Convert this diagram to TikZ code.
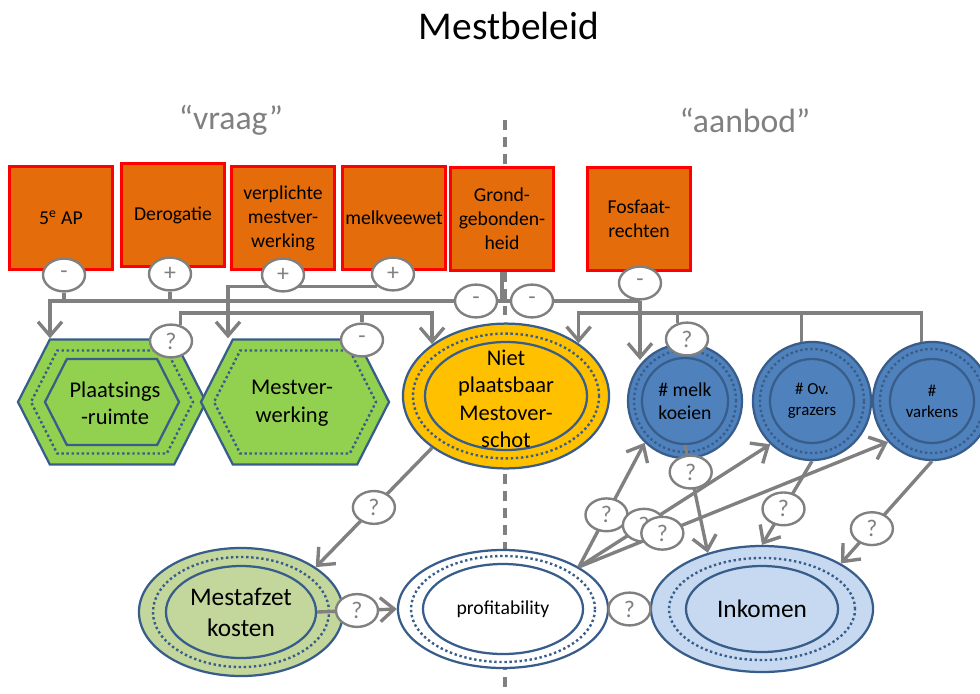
\documentclass[tikz,border=0pt]{standalone}
\usepackage{fontspec}
\setmainfont{Carlito}
\usepackage{xcolor}
\usepackage{tikz}
\usetikzlibrary{calc, shapes.geometric, shapes.symbols}
\usetikzlibrary{arrows.meta, positioning}

\definecolor{boxorange}{HTML}{E46C0A}
\definecolor{shapeblue}{HTML}{385D8A}
\definecolor{hexgreen}{HTML}{92D050}
\definecolor{nietyellow}{HTML}{FFC000}
\definecolor{animalblue}{HTML}{4F81BD}
\definecolor{kostgreen}{HTML}{C3D69B}
\definecolor{inkblue}{HTML}{C6D9F1}
\definecolor{linegray}{HTML}{808080}

\pgfdeclarelayer{front}
\pgfsetlayers{main,front}

\begin{document}
\begin{tikzpicture}[
            x=0.025cm, y=-0.025cm,
            title/.style={font=\fontsize{28}{30}\selectfont},
            side/.style={font=\fontsize{24}{26}\selectfont, text=linegray},
            box/.style={rectangle, draw=red, line width=2pt, fill=boxorange, minimum width=2.575cm, minimum height=2.575cm, inner sep=1pt, align=center, font=\fontsize{14}{17}\selectfont},
            sign/.style={ellipse, draw=linegray, line width=1.7pt, fill=white, minimum width=1.05cm, minimum height=0.82cm, inner sep=0pt, text=linegray, font=\fontsize{17}{17}\selectfont},
            hexout/.style={signal, signal to=east and west, signal pointer angle=126, draw=shapeblue, line width=1.6pt, fill=hexgreen, minimum width=4.7cm, minimum height=3.125cm, inner sep=0pt},
            hexdot/.style={signal, signal to=east and west, signal pointer angle=126, draw=shapeblue, line width=1.7pt, dash pattern=on 1.7pt off 1.9pt, inner sep=0pt},
            hexin/.style={signal, signal to=east and west, signal pointer angle=126, draw=shapeblue, line width=1.6pt, inner sep=0pt},
            ringout/.style={ellipse, draw=shapeblue, line width=1.6pt, inner sep=0pt},
            ringdot/.style={ellipse, draw=shapeblue, line width=1.7pt, dash pattern=on 1.7pt off 1.9pt, inner sep=0pt},
            ringin/.style={ellipse, draw=shapeblue, line width=1.6pt, inner sep=0pt},
            bigtxt/.style={align=center, font=\fontsize{16}{19.5}\selectfont},
            midtxt/.style={align=center, font=\fontsize{18}{22}\selectfont},
            smalltxt/.style={align=center, font=\fontsize{14}{16.5}\selectfont},
            tinytxt/.style={align=center, font=\fontsize{12}{15}\selectfont},
            divider/.style={draw=linegray, line width=2.2pt, dash pattern=on 7pt off 5pt},
            conn/.style={draw=linegray, line width=2.4pt},
            arr/.style={conn, -{Straight Barb[length=3.5mm, width=6mm]}}
        ]

        \useasboundingbox (0,0) rectangle (980,693);
        \clip (0,0) rectangle (980,693);

        % Headings
        \node[title] (title) at (509,26) {Mestbeleid};
        \node[side] (vraag) at (231,120) {“vraag”};
        \node[side] (aanbod) at (745,120) {“aanbod”};

        \draw[divider] (505,120) -- (505,693);

        % Policy boxes
        \node[box] (ap5) at (61,218) {5\textsuperscript{e} AP};
        \node[box] (dero) at (173,215) {Derogatie};
        \node[box] (verp) at (283,218) {verplichte\\mestver-\\werking};
        \node[box] (melkv) at (394,218) {melkveewet};
        \node[box] (grond) at (502,219) {Grond-\\gebonden-\\heid};
        \node[box] (fos) at (639,219) {Fosfaat-\\rechten};

        % Demand side
        \node[hexout] (hex1) at (112,402) {};
        \node[hexdot, minimum width=4.05cm, minimum height=2.575cm] (hex1-dot) at (hex1) {};
        \node[hexin, minimum width=3.35cm, minimum height=2.15cm] (hex1-in) at (hex1) {};
        \node[bigtxt] (hex1-txt) at (115,403) {Plaatsings\\-ruimte};

        \node[hexout] (hex2) at (295,402) {};
        \node[hexdot, minimum width=4.05cm, minimum height=2.575cm] (hex2-dot) at (hex2) {};
        \node[bigtxt] (hex2-txt) at (292,403) {Mestver-\\werking};

        \node[ringout, fill=nietyellow, minimum width=5.15cm, minimum height=3.62cm] (niet) at (506,396) {};
        \node[ringdot, minimum width=4.65cm, minimum height=3.12cm] (niet-dot) at (niet) {};
        \node[ringin, minimum width=4.05cm, minimum height=2.7cm] (niet-in) at (niet) {};
        \node[bigtxt] (niet-txt) at (506,399) {Niet\\plaatsbaar\\Mestover-\\schot};

        % Supply side
        \node[ringout, fill=animalblue, minimum width=2.85cm, minimum height=2.85cm] (melk) at (685,401) {};
        \node[ringdot, minimum width=2.55cm, minimum height=2.55cm] (melk-dot) at (melk) {};
        \node[ringin, minimum width=2.15cm, minimum height=2.15cm] (melk-in) at (melk) {};
        \node[smalltxt] (melk-txt) at (melk) {\# melk\\koeien};

        \node[ringout, fill=animalblue, minimum width=2.95cm, minimum height=2.95cm] (ov) at (812,401) {};
        \node[ringdot, minimum width=2.6cm, minimum height=2.6cm] (ov-dot) at (ov) {};
        \node[ringin, minimum width=2.1cm, minimum height=2.1cm] (ov-in) at (ov) {};
        \node[tinytxt] (ov-txt) at (ov) {\# Ov.\\grazers};

        \node[ringout, fill=animalblue, minimum width=2.95cm, minimum height=2.95cm] (var) at (932,401) {};
        \node[ringdot, minimum width=2.6cm, minimum height=2.6cm] (var-dot) at (var) {};
        \node[ringin, minimum width=2.1cm, minimum height=2.1cm] (var-in) at (var) {};
        \node[tinytxt] (var-txt) at (var) {\#\\varkens};

        % Economic outcomes
        \node[ringout, fill=kostgreen, minimum width=5.1cm, minimum height=3.2cm] (mest) at (241,612) {};
        \node[ringdot, minimum width=4.4cm, minimum height=2.75cm] (mest-dot) at (mest) {};
        \node[ringin, minimum width=3.75cm, minimum height=2.3cm] (mest-in) at (mest) {};
        \node[midtxt] (mest-txt) at (mest) {Mestafzet\\kosten};

        \node[ringout, fill=white, minimum width=5.25cm, minimum height=2.95cm] (prof) at (503,609) {};
        \node[ringdot, minimum width=4.6cm, minimum height=2.65cm] (prof-dot) at (prof) {};
        \node[ringin, minimum width=4.0cm, minimum height=2.25cm] (prof-in) at (prof) {};
        \node[smalltxt] (prof-txt) at (prof) {profitability};

        \node[ringout, fill=inkblue, minimum width=5.55cm, minimum height=3.15cm] (ink) at (762,609) {};
        \node[ringdot, minimum width=4.65cm, minimum height=2.55cm] (ink-dot) at (ink) {};
        \node[ringin, minimum width=3.8cm, minimum height=2.15cm] (ink-in) at (ink) {};
        \node[midtxt] (ink-txt) at (ink) {Inkomen};

        % Signs
        \begin{pgfonlayer}{front}
        \node[sign] (s-ap5) at (64,275) {-};
        \node[sign] (s-dero) at (170,274) {+};
        \node[sign] (s-verp) at (283,275) {+};
        \node[sign] (s-melkv) at (393,274) {+};
        \node[sign] (s-grl) at (476,301) {-};
        \node[sign] (s-grr) at (532,301) {-};
        \node[sign] (s-fos) at (640,283) {-};
        \node[sign] (q-hex1) at (171,341) {?};
        \node[sign] (s-hex2) at (362,340) {-};
        \node[sign] (q-melk) at (687,339) {?};
        \end{pgfonlayer}

        \coordinate (busB) at (0,313);

        % Policy links
        \draw[conn] (s-ap5) |- (s-grl);
        \draw[conn] (s-dero) -- (s-dero |- s-grl);
        \draw[arr] (s-grl) -| ($(hex1.north)+(-62,0)$);
        \draw[arr] (s-melkv.south west) -| ($(hex2.north)+(-67,0)$);
        \draw[conn] (grond) -- (grond |- s-grl);
        \draw[conn] (s-grl) -- (s-grr);
        \draw[conn] (s-grr) -| (s-fos);
        \draw[arr] (s-fos) -- (s-fos |- melk.135);

        % Links into the surplus
        \draw[arr] (q-hex1.60) |- (niet.145 |- busB) -- (niet.145);
        \draw[conn] (s-hex2) -- (s-hex2 |- busB);
        \draw[arr] (q-melk.120) |- (niet.36 |- busB) -- (niet.36);
        \draw[conn] (ov.100) -- (ov.100 |- busB);
        \draw[conn] (var.100) -- (var.100 |- busB) -- (q-melk.120 |- busB);

        % Economic links
        \draw[arr] (niet.215) -- node[sign, pos=0.5] {?} (mest.31);
        \draw[arr] (mest-in.east) -- node[sign] {?} (prof.west);
        \draw[arr] (prof.east) -- node[sign] {?} (ink.west);

        \draw[arr] (prof.29) -- node[sign, pos=0.42] {?} (melk.226);
        \draw[arr] (prof.29) -- node[sign, pos=0.34] {?} (ov.226);
        \draw[arr] (prof.29) -- node[sign, pos=0.27] {?} (var.223);

        \draw[arr] (melk-in.south) -- node[sign, pos=0.25] {?} (ink.134);
        \draw[arr] (ov.south) -- node[sign, pos=0.57] {?} (ink.north);
        \draw[arr] (var.south) -- node[sign, pos=0.66] {?} (ink.30);

    \end{tikzpicture}
\end{document}
